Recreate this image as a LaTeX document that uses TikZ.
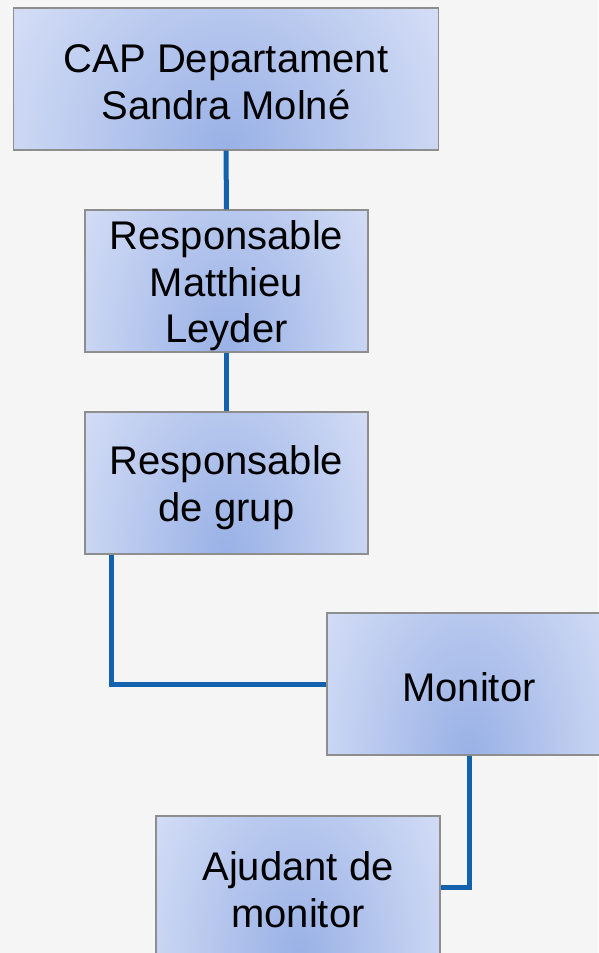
\documentclass[tikz,border=0pt]{standalone}
\usepackage{fontspec}
\setmainfont{Liberation Sans}
\definecolor{bgc}{HTML}{F5F5F5}
\definecolor{linec}{HTML}{1461AD}
\definecolor{boxdark}{HTML}{99B1E6}
\definecolor{boxlight}{HTML}{EDF0FC}
\definecolor{boxedge}{HTML}{8E8E8E}
\newcommand\ls{\rule[-4pt]{0pt}{42pt}}
\tikzset{
  orgbox/.style={rectangle, draw=boxedge, line width=1.3pt, minimum height=142pt,
    inner sep=0pt, align=center, font=\fontsize{40}{46}\selectfont,
    path picture={\shade[inner color=boxdark, outer color=boxlight]
      (path picture bounding box.south) ellipse [x radius=#1, y radius=390pt];}},
  orgbox/.default=245pt,
  link/.style={draw=linec, line width=5pt}
}
\begin{document}
\begin{tikzpicture}[x=1pt,y=-1pt]
  \fill[bgc] (0,0) rectangle (598,953);
  \useasboundingbox (0,0) rectangle (598,953);
  \node[orgbox=350pt, minimum width=425pt] (b1) at (226,79) {\ls CAP Departament\\\ls Sandra Molné};
  \node[orgbox, minimum width=283pt] (b2) at (226.5,281) {\ls Responsable\\\ls Matthieu\\\ls Leyder};
  \node[orgbox, minimum width=283pt] (b3) at (226.5,483) {\ls Responsable\\\ls de grup};
  \node[orgbox, minimum width=284pt] (b4) at (469,684) {\ls Monitor};
  \node[orgbox, minimum width=284pt] (b5) at (298,887) {\ls Ajudant de\\\ls monitor};
  \draw[link] (b1.south) -- (b2.north);
  \draw[link] (b2.south) -- (b3.north);
  \draw[link] ([xshift=27pt]b3.south west) |- (b4.west);
  \draw[link] (b4.south) |- (b5.east);
\end{tikzpicture}
\end{document}
